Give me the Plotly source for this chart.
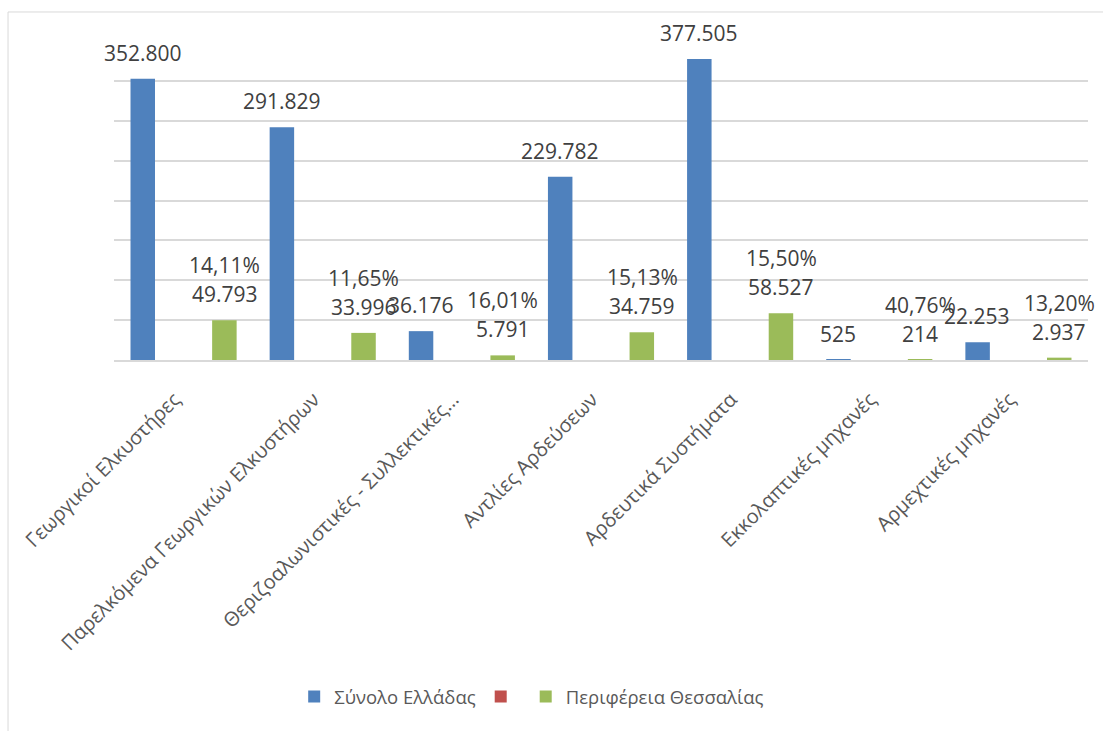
import plotly.graph_objects as go

# Machinery categories
categories = [
    "Γεωργικοί Ελκυστήρες",
    "Παρελκόμενα Γεωργικών Ελκυστήρων",
    "Θεριζοαλωνιστικές - Συλλεκτικές…",
    "Αντλίες Αρδεύσεων",
    "Αρδευτικά Συστήματα",
    "Εκκολαπτικές μηχανές",
    "Αρμεχτικές μηχανές",
]

# Series values
greece_total = [352800, 291829, 36176, 229782, 377505, 525, 22253]
thessaly_share = [0.1411, 0.1165, 0.1601, 0.1513, 0.1550, 0.4076, 0.1320]
thessaly = [49793, 33996, 5791, 34759, 58527, 214, 2937]

y_ticks = [0, 50000, 100000, 150000, 200000, 250000, 300000, 350000, 400000]

BLUE = "#4F81BD"
RED = "#C0504D"
GREEN = "#9BBB59"
LABEL_COLOR = "#404040"
AXIS_TEXT = "#595959"
GRID = "#D9D9D9"
FONT = "Open Sans"


def fmt_int(v):
    return f"{v:,}".replace(",", ".")


def fmt_pct(p):
    return f"{p * 100:.2f}".replace(".", ",") + "%"


fig = go.Figure()
fig.add_trace(go.Bar(x=categories, y=greece_total, name="Σύνολο Ελλάδας",
                     marker=dict(color=BLUE, line=dict(width=0))))
fig.add_trace(go.Bar(x=categories, y=thessaly_share, name="",
                     marker=dict(color=RED, line=dict(width=0))))
fig.add_trace(go.Bar(x=categories, y=thessaly, name="Περιφέρεια Θεσσαλίας",
                     marker=dict(color=GREEN, line=dict(width=0))))

# Data labels: value above each bar, share on top of the regional value
SLOT = 41
annotations = []
for cat, tot, share, reg in zip(categories, greece_total, thessaly_share, thessaly):
    annotations.append(dict(x=cat, y=tot, text=fmt_int(tot), xshift=-SLOT, yshift=26,
                            showarrow=False, yanchor="middle",
                            font=dict(family=FONT, size=21, color=LABEL_COLOR)))
    annotations.append(dict(x=cat, y=reg, text=fmt_int(reg), xshift=SLOT, yshift=26,
                            showarrow=False, yanchor="middle",
                            font=dict(family=FONT, size=21, color=LABEL_COLOR)))
    annotations.append(dict(x=cat, y=reg, text=fmt_pct(share), xshift=SLOT, yshift=55,
                            showarrow=False, yanchor="middle",
                            font=dict(family=FONT, size=21, color=LABEL_COLOR)))

fig.update_layout(
    width=1103, height=731,
    margin=dict(l=114, r=15, t=41, b=371, autoexpand=False),
    paper_bgcolor="white", plot_bgcolor="white",
    barmode="group", bargap=0.12, bargroupgap=0.40,
    font=dict(family=FONT, color=AXIS_TEXT),
    annotations=annotations,
    showlegend=True,
    legend=dict(orientation="h", x=0.185, xanchor="left", y=-1.056, yanchor="middle",
                font=dict(family=FONT, size=18.5, color=AXIS_TEXT),
                bgcolor="rgba(0,0,0,0)"),
    shapes=[dict(type="rect", xref="paper", yref="paper",
                 x0=-0.1088, x1=1.03, y0=-1.3, y1=1.091,
                 line=dict(color=GRID, width=1), fillcolor="rgba(0,0,0,0)", layer="below")],
)
fig.update_xaxes(type="category", range=[-0.5, len(categories) - 0.5],
                 tickangle=-45, showgrid=False, ticks="",
                 showline=True, linecolor=GRID, linewidth=1.5, automargin=False,
                 tickfont=dict(family=FONT, size=20, color=AXIS_TEXT),
                 ticklabelstandoff=18, ticklabelshift=-9)
fig.update_yaxes(range=[0, 400000], tickvals=y_ticks, showticklabels=False,
                 showgrid=True, gridcolor=GRID, gridwidth=1.5, zeroline=False,
                 showline=False, automargin=False)

fig.write_html("out.html")
